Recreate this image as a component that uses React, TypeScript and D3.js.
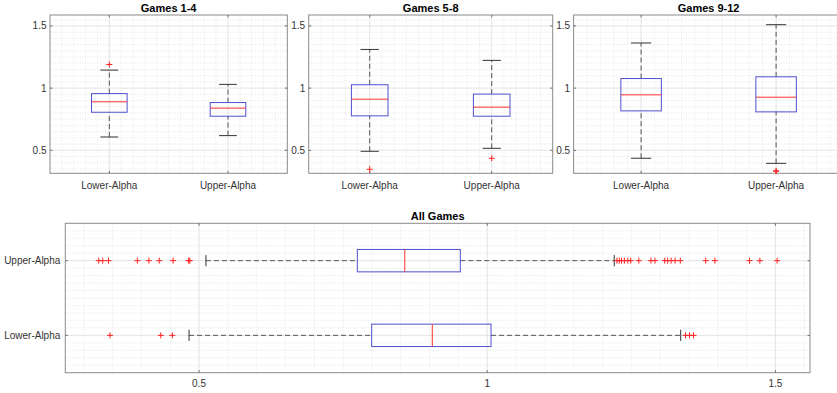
import React from 'react';
import * as d3 from 'd3';

const groups = ['Lower-Alpha', 'Upper-Alpha'];
const topTitles = ['Games 1-4', 'Games 5-8', 'Games 9-12'];
const bottomTitle = 'All Games';
const valueTicks = [0.5, 1, 1.5];

// each row: [lower whisker, q1, median, q3, upper whisker]
const games1to4 = [
    [0.607, 0.806, 0.89, 0.956, 1.145],
    [0.618, 0.774, 0.839, 0.884, 1.03],
];
const games1to4Out = [[1.19], []];

const games5to8 = [
    [0.492, 0.777, 0.911, 1.027, 1.311],
    [0.516, 0.774, 0.847, 0.952, 1.223],
];
const games5to8Out = [[0.347], [0.436]];

const games9to12 = [
    [0.436, 0.817, 0.946, 1.077, 1.363],
    [0.395, 0.809, 0.927, 1.091, 1.51],
];
const games9to12Out = [[], [0.331, 0.335]];

const allGames = [
    [0.4827, 0.7995, 0.9047, 1.0066, 1.3356],
    [0.512, 0.7746, 0.857, 0.9533, 1.2204],
];
const allGamesOut = [
    [0.3456, 0.4336, 0.4537, 1.344, 1.351, 1.358],
    [0.326, 0.333, 0.343, 0.393, 0.413, 0.431, 0.455, 0.482, 0.484,
        1.225, 1.229, 1.233, 1.238, 1.244, 1.249, 1.263, 1.284, 1.291, 1.308,
        1.313, 1.319, 1.326, 1.335, 1.379, 1.395, 1.455, 1.473, 1.503],
];

const FONT = '"Liberation Sans", Arial, Helvetica, sans-serif';

interface PanelProps {
    x0: number; y0: number; w: number; h: number;
    title: string;
    stats: number[][];
    outliers: number[][];
    domain: [number, number];
    horizontal?: boolean;
}

const BoxPanel: React.FC<PanelProps> = ({ x0, y0, w, h, title, stats, outliers, domain, horizontal }) => {
    // value scale and category scale
    const val = d3.scaleLinear().domain(domain).range(horizontal ? [x0, x0 + w] : [y0 + h, y0]);
    const cat = d3.scaleLinear().domain([0.5, 2.5]).range(horizontal ? [y0 + h, y0] : [x0, x0 + w]);
    const pt = (v: number, c: number): [number, number] => (horizontal ? [val(v), cat(c)] : [cat(c), val(v)]);
    const seg = (v1: number, c1: number, v2: number, c2: number) => {
        const [ax, ay] = pt(v1, c1);
        const [bx, by] = pt(v2, c2);
        return { x1: ax, y1: ay, x2: bx, y2: by };
    };

    const valMinor = d3.range(Math.ceil(domain[0] / 0.05) * 0.05, domain[1], 0.05);
    const catMinor = d3.range(0.6, 2.45, 0.1);
    const bw = 0.15; // half box width
    const cw = 0.075; // half cap width
    const tk = 2.5;

    return (
        <g>
            {valMinor.map((v, i) => (
                <line key={'vm' + i} {...seg(v, 0.5, v, 2.5)} stroke="#d6d6d6" strokeWidth={0.6} strokeDasharray="1,1.5" />
            ))}
            {catMinor.map((c, i) => (
                <line key={'cm' + i} {...seg(domain[0], c, domain[1], c)} stroke="#d6d6d6" strokeWidth={0.6} strokeDasharray="1,1.5" />
            ))}
            {valueTicks.map((v) => (
                <line key={'vg' + v} {...seg(v, 0.5, v, 2.5)} stroke="#e2e2e2" strokeWidth={0.8} />
            ))}
            {[1, 2].map((c) => (
                <line key={'cg' + c} {...seg(domain[0], c, domain[1], c)} stroke="#e2e2e2" strokeWidth={0.8} />
            ))}
            <rect x={x0} y={y0} width={w} height={h} fill="none" stroke="#8a8a8a" strokeWidth={1} />
            {/* ticks inside on both sides */}
            {valueTicks.map((v) => {
                const p = horizontal ? val(v) : val(v);
                return horizontal ? (
                    <g key={'vt' + v} stroke="#6e6e6e" strokeWidth={1}>
                        <line x1={p} x2={p} y1={y0 + h} y2={y0 + h - tk} />
                        <line x1={p} x2={p} y1={y0} y2={y0 + tk} />
                    </g>
                ) : (
                    <g key={'vt' + v} stroke="#6e6e6e" strokeWidth={1}>
                        <line x1={x0} x2={x0 + tk} y1={p} y2={p} />
                        <line x1={x0 + w} x2={x0 + w - tk} y1={p} y2={p} />
                    </g>
                );
            })}
            {[1, 2].map((c) => {
                const p = cat(c);
                return horizontal ? (
                    <g key={'ct' + c} stroke="#6e6e6e" strokeWidth={1}>
                        <line x1={x0} x2={x0 + tk} y1={p} y2={p} />
                        <line x1={x0 + w} x2={x0 + w - tk} y1={p} y2={p} />
                    </g>
                ) : (
                    <g key={'ct' + c} stroke="#6e6e6e" strokeWidth={1}>
                        <line x1={p} x2={p} y1={y0 + h} y2={y0 + h - tk} />
                        <line x1={p} x2={p} y1={y0} y2={y0 + tk} />
                    </g>
                );
            })}
            {/* boxes */}
            {stats.map((s, i) => {
                const c = i + 1;
                const [lo, q1, med, q3, hi] = s;
                const [bx1, by1] = pt(q1, c - bw);
                const [bx2, by2] = pt(q3, c + bw);
                return (
                    <g key={'b' + i}>
                        <line {...seg(lo, c, q1, c)} stroke="#555" strokeWidth={1} strokeDasharray="5,3" />
                        <line {...seg(q3, c, hi, c)} stroke="#555" strokeWidth={1} strokeDasharray="5,3" />
                        <line {...seg(lo, c - cw, lo, c + cw)} stroke="#333" strokeWidth={1} />
                        <line {...seg(hi, c - cw, hi, c + cw)} stroke="#333" strokeWidth={1} />
                        <rect
                            x={Math.min(bx1, bx2)} y={Math.min(by1, by2)}
                            width={Math.abs(bx2 - bx1)} height={Math.abs(by2 - by1)}
                            fill="none" stroke="#5050d0" strokeWidth={1}
                        />
                        <line {...seg(med, c - bw, med, c + bw)} stroke="#ff3030" strokeWidth={1} />
                        {outliers[i].map((o, j) => {
                            const [px, py] = pt(o, c);
                            return (
                                <g key={'o' + j} stroke="#ff2020" strokeWidth={1}>
                                    <line x1={px - 3} x2={px + 3} y1={py} y2={py} />
                                    <line x1={px} x2={px} y1={py - 3} y2={py + 3} />
                                </g>
                            );
                        })}
                    </g>
                );
            })}
            {/* labels */}
            {valueTicks.map((v) =>
                horizontal ? (
                    <text key={'vl' + v} x={val(v)} y={y0 + h + 14} textAnchor="middle" fontSize={10} fill="#333" fontFamily={FONT}>
                        {v}
                    </text>
                ) : (
                    <text key={'vl' + v} x={x0 - 3.5} y={val(v)} dy="0.35em" textAnchor="end" fontSize={10} fill="#333" fontFamily={FONT}>
                        {v}
                    </text>
                )
            )}
            {groups.map((g, i) =>
                horizontal ? (
                    <text key={'cl' + g} x={x0 - 5} y={cat(i + 1)} dy="0.35em" textAnchor="end" fontSize={10} fill="#333" fontFamily={FONT}>
                        {g}
                    </text>
                ) : (
                    <text key={'cl' + g} x={cat(i + 1)} y={y0 + h + 15.5} textAnchor="middle" fontSize={10} fill="#333" fontFamily={FONT}>
                        {g}
                    </text>
                )
            )}
            <text x={x0 + w / 2} y={y0 - 3.2} textAnchor="middle" fontSize={11} fontWeight="bold" fill="#000" fontFamily={FONT}>
                {title}
            </text>
        </g>
    );
};

const App: React.FC = () => {
    const topDomain: [number, number] = [0.315, 1.588];
    const bottomDomain: [number, number] = [0.268, 1.56];
    const topPanels = [
        { x0: 50, w: 237.3, stats: games1to4, out: games1to4Out },
        { x0: 308.7, w: 244, stats: games5to8, out: games5to8Out },
        { x0: 573.6, w: 270, stats: games9to12, out: games9to12Out },
    ];
    return (
        <svg
            width={837}
            height={393}
            style={{ position: 'absolute', left: 0, top: 0, background: '#fff', overflow: 'hidden' }}
        >
            {topPanels.map((p, i) => (
                <BoxPanel
                    key={i}
                    x0={p.x0} y0={15} w={p.w} h={158.3}
                    title={topTitles[i]}
                    stats={p.stats} outliers={p.out}
                    domain={topDomain}
                />
            ))}
            <BoxPanel
                x0={65.3} y0={223.3} w={744.7} h={149.4}
                title={bottomTitle}
                stats={allGames} outliers={allGamesOut}
                domain={bottomDomain}
                horizontal
            />
        </svg>
    );
};

export default App;
